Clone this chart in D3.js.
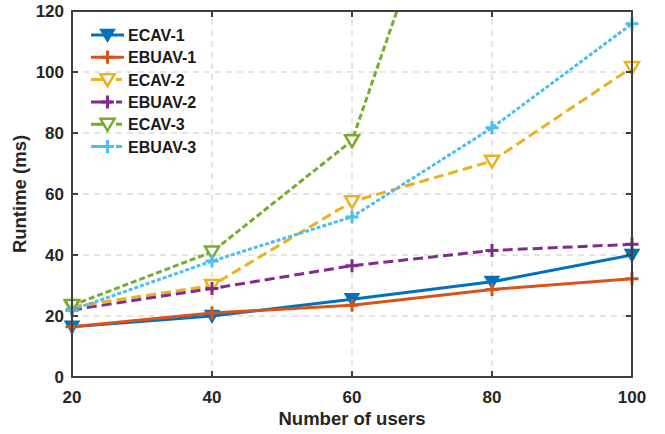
<!doctype html>
<html>
<head>
<meta charset="utf-8">
<script src="https://cdn.jsdelivr.net/npm/d3@7"></script>
<style>
  body { margin: 0; background: #fff; }
  text { font-family: "Liberation Sans", Arial, sans-serif; font-weight: bold; }
</style>
</head>
<body>
<script>
// Data
const users = [20, 40, 60, 80, 100];
const names = ["ECAV-1", "EBUAV-1", "ECAV-2", "EBUAV-2", "ECAV-3", "EBUAV-3"];
const ecav1 = [16.5, 20, 25.5, 31.2, 40];
const ebuav1 = [16.5, 21, 23.5, 28.7, 32.2];
const ecav2 = [23, 30, 57.5, 70.8, 101.5];
const ebuav2 = [22, 29, 36.5, 41.5, 43.5];
const ecav3 = [23.5, 41, 77.5, 210, 330];
const ebuav3 = [22, 38, 52.5, 81.7, 115.8];
const xTicks = [20, 40, 60, 80, 100];
const yTicks = [0, 20, 40, 60, 80, 100, 120];

const series = [
  {name: names[0], values: ecav1, color: "#0072BD", dash: null, marker: "triDown", fill: true},
  {name: names[1], values: ebuav1, color: "#D95319", dash: null, marker: "plus"},
  {name: names[2], values: ecav2, color: "#EDB120", dash: "10,5", marker: "triDown", fill: false},
  {name: names[3], values: ebuav2, color: "#7E2F8E", dash: "10,5", marker: "plus"},
  {name: names[4], values: ecav3, color: "#77AC30", dash: "6,3", marker: "triDown", fill: false},
  {name: names[5], values: ebuav3, color: "#4DBEEE", dash: "4,2", marker: "plus"}
];

const width = 665, height = 434;
const marginLeft = 72, marginRight = 33, marginTop = 11, marginBottom = 57;

const x = d3.scaleLinear([20, 100], [marginLeft, width - marginRight]);
const y = d3.scaleLinear([0, 120], [height - marginBottom, marginTop]);

const svg = d3.select("body").append("svg")
    .attr("width", width)
    .attr("height", height);

svg.append("defs").append("clipPath").attr("id", "plot")
  .append("rect")
    .attr("x", marginLeft).attr("y", marginTop)
    .attr("width", x(100) - x(20)).attr("height", y(0) - y(120));

// Grid
const grid = svg.append("g")
    .attr("stroke", "#dcdcdc")
    .attr("stroke-width", 1.5)
    .attr("stroke-dasharray", "6,5");
grid.selectAll(".gx").data(xTicks.slice(1, -1)).join("line")
    .attr("x1", d => x(d)).attr("x2", d => x(d))
    .attr("y1", y(0)).attr("y2", y(120));
grid.selectAll(".gy").data(yTicks.slice(1, -1)).join("line")
    .attr("x1", x(20)).attr("x2", x(100))
    .attr("y1", d => y(d)).attr("y2", d => y(d));

// Lines
const line = d3.line()
    .x((d, i) => x(users[i]))
    .y(d => y(d));

svg.append("g")
    .attr("clip-path", "url(#plot)")
    .attr("fill", "none")
    .attr("stroke-width", 3)
  .selectAll("path")
  .data(series)
  .join("path")
    .attr("stroke", d => d.color)
    .attr("stroke-dasharray", d => d.dash)
    .attr("d", d => line(d.values));

// Markers
function drawMarker(g, s, cx, cy) {
  if (s.marker === "triDown") {
    const w = 7, h = 12;
    g.append("path")
      .attr("d", `M${cx - w},${cy - h * 0.45}L${cx + w},${cy - h * 0.45}L${cx},${cy + h * 0.55}Z`)
      .attr("fill", s.fill ? s.color : "#fff")
      .attr("stroke", s.color)
      .attr("stroke-width", s.fill ? 1.5 : 2.5)
      .attr("stroke-linejoin", "miter");
  } else {
    const r = 6.5;
    g.append("path")
      .attr("d", `M${cx - r},${cy}H${cx + r}M${cx},${cy - r}V${cy + r}`)
      .attr("stroke", s.color)
      .attr("stroke-width", 3)
      .attr("fill", "none");
  }
}

const markers = svg.append("g");
series.forEach(s => {
  s.values.forEach((v, i) => {
    if (v <= 120) drawMarker(markers, s, x(users[i]), y(v));
  });
});

// Axes box and ticks
const axisColor = "#404040";
const axes = svg.append("g").attr("stroke", axisColor).attr("stroke-width", 2);
axes.append("rect")
    .attr("x", x(20)).attr("y", y(120))
    .attr("width", x(100) - x(20)).attr("height", y(0) - y(120))
    .attr("fill", "none");
const tl = 6;
xTicks.forEach(t => {
  axes.append("line").attr("x1", x(t)).attr("x2", x(t)).attr("y1", y(0)).attr("y2", y(0) - tl);
  axes.append("line").attr("x1", x(t)).attr("x2", x(t)).attr("y1", y(120)).attr("y2", y(120) + tl);
});
yTicks.forEach(t => {
  axes.append("line").attr("x1", x(20)).attr("x2", x(20) + tl).attr("y1", y(t)).attr("y2", y(t));
  axes.append("line").attr("x1", x(100)).attr("x2", x(100) - tl).attr("y1", y(t)).attr("y2", y(t));
});

// Tick labels
svg.append("g")
    .attr("font-size", 17).attr("fill", "#262626").attr("text-anchor", "middle")
  .selectAll("text").data(xTicks).join("text")
    .attr("x", d => x(d)).attr("y", y(0) + 26)
    .text(d => d);
svg.append("g")
    .attr("font-size", 17).attr("fill", "#262626").attr("text-anchor", "end")
  .selectAll("text").data(yTicks).join("text")
    .attr("x", x(20) - 8).attr("y", d => y(d) + 6)
    .text(d => d);

// Axis labels
svg.append("text")
    .attr("x", (x(20) + x(100)) / 2).attr("y", 425)
    .attr("text-anchor", "middle").attr("font-size", 18.5).attr("fill", "#262626")
    .text("Number of users");
svg.append("text")
    .attr("transform", `translate(26,${(y(0) + y(120)) / 2}) rotate(-90)`)
    .attr("text-anchor", "middle").attr("font-size", 18.5).attr("fill", "#262626")
    .text("Runtime (ms)");

// Legend
const legend = svg.append("g");
series.forEach((s, i) => {
  const ly = 35 + i * 22.3;
  const g = legend.append("g");
  g.append("line")
      .attr("x1", 91).attr("x2", 124).attr("y1", ly).attr("y2", ly)
      .attr("stroke", s.color).attr("stroke-width", 3)
      .attr("stroke-dasharray", s.dash ? "21,4,6" : null);
  drawMarker(g, s, 107.5, ly);
  g.append("text")
      .attr("x", 128).attr("y", ly + 6)
      .attr("font-size", 16).attr("fill", "#1a1a1a")
      .text(s.name);
});
</script>
</body>
</html>
